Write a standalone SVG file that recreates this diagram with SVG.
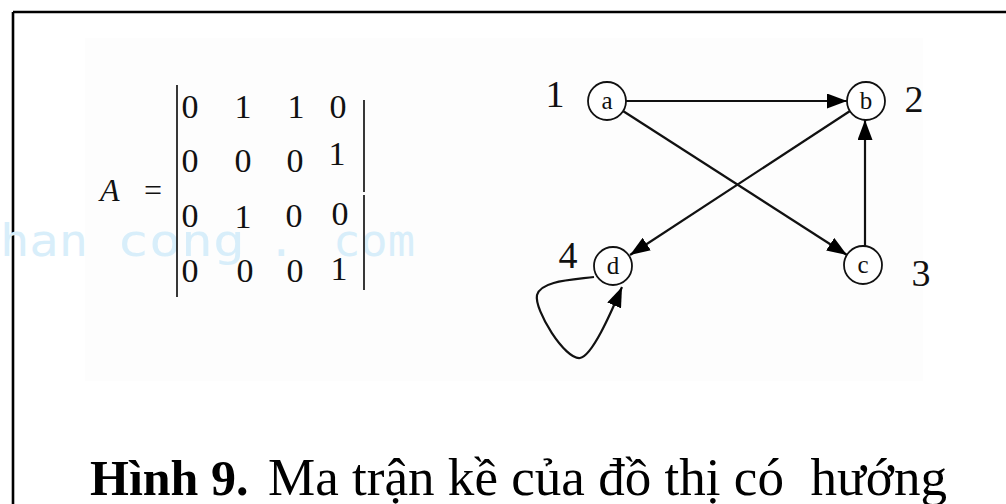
<svg xmlns="http://www.w3.org/2000/svg" width="1006" height="504" viewBox="0 0 1006 504">
  <defs>
    <marker id="arrow" viewBox="0 0 20 15" refX="20" refY="7.5" markerWidth="20" markerHeight="15" markerUnits="userSpaceOnUse" orient="auto">
      <path d="M0,0 L20,7.5 L0,15 z" fill="#000"/>
    </marker>
    <style>
      .frame { stroke: #000; stroke-width: 2.6; fill: none; }
      .bar { stroke: #222; stroke-width: 1.8; fill: none; }
      .num { font-family: "Liberation Serif", "Times New Roman", serif; font-size: 34px; fill: #111; text-anchor: middle; }
      .wm { font-family: "DejaVu Sans Mono", monospace; font-size: 44px; fill: #d8eefa; }
      .node circle { fill: #fff; stroke: #111; stroke-width: 1.8; }
      .node text { font-family: "Liberation Serif", "Times New Roman", serif; font-size: 25px; fill: #111; text-anchor: middle; }
      .lbl { font-family: "Liberation Serif", "Times New Roman", serif; font-size: 38px; fill: #111; text-anchor: middle; }
      .edge { stroke: #111; stroke-width: 2.2; fill: none; }
      .cap { font-family: "Liberation Serif", "Times New Roman", serif; fill: #000; }
    </style>
  </defs>
  <rect width="1006" height="504" fill="#fff"/>
  <rect x="85" y="38" width="838" height="343" fill="#fdfdfd"/>
  <line class="frame" x1="13" y1="12" x2="1006" y2="12"/>
  <line class="frame" x1="13" y1="12" x2="13" y2="504"/>

  <g id="watermark">
    <text class="wm" x="0" y="256" textLength="88" lengthAdjust="spacingAndGlyphs">han</text>
    <text class="wm" x="117" y="256" textLength="128" lengthAdjust="spacingAndGlyphs">cong</text>
    <text class="wm" x="268" y="256">.</text>
    <text class="wm" x="333" y="256" textLength="82" lengthAdjust="spacingAndGlyphs">com</text>
  </g>

  <g id="matrix">
    <text x="100" y="201" font-family="Liberation Serif, Times New Roman, serif" font-style="italic" font-size="32" fill="#111">A</text>
    <text x="144" y="201" font-family="Liberation Serif, Times New Roman, serif" font-size="32" fill="#111">=</text>
    <line class="bar" x1="177" y1="85" x2="177" y2="297"/>
    <line class="bar" x1="364" y1="100" x2="364" y2="192"/>
    <line class="bar" x1="364" y1="195" x2="364" y2="290"/>
    <text class="num" x="190" y="118">0</text>
    <text class="num" x="243" y="118">1</text>
    <text class="num" x="296" y="118">1</text>
    <text class="num" x="338" y="118">0</text>
    <text class="num" x="190" y="172">0</text>
    <text class="num" x="243" y="172">0</text>
    <text class="num" x="295" y="172">0</text>
    <text class="num" x="337" y="165">1</text>
    <text class="num" x="190" y="227">0</text>
    <text class="num" x="243" y="228">1</text>
    <text class="num" x="294" y="227">0</text>
    <text class="num" x="340" y="225">0</text>
    <text class="num" x="190" y="282">0</text>
    <text class="num" x="245" y="282">0</text>
    <text class="num" x="295" y="282">0</text>
    <text class="num" x="339" y="280">1</text>
  </g>

  <g id="connectors">
    <line class="edge" x1="626" y1="101" x2="847" y2="101" marker-end="url(#arrow)"/>
    <line class="edge" x1="623" y1="111" x2="847" y2="255" marker-end="url(#arrow)"/>
    <line class="edge" x1="850" y1="111" x2="630" y2="255" marker-end="url(#arrow)"/>
    <line class="edge" x1="865" y1="246" x2="865" y2="120" marker-end="url(#arrow)"/>
    <path class="edge" d="M 594 277 C 570 280, 541 281, 537 295 C 534 310, 565 360, 580 358 C 592 356, 610 315, 622 287" marker-end="url(#arrow)"/>
  </g>

  <g id="node-a" class="node">
    <circle cx="607" cy="101" r="19"/>
    <text x="607" y="109">a</text>
  </g>
  <g id="node-b" class="node">
    <circle cx="866" cy="101" r="19"/>
    <text x="866" y="109">b</text>
  </g>
  <g id="node-c" class="node">
    <circle cx="863" cy="265" r="19"/>
    <text x="863" y="273">c</text>
  </g>
  <g id="node-d" class="node">
    <circle cx="613" cy="266" r="19"/>
    <text x="613" y="274">d</text>
  </g>

  <g id="labels">
    <text class="lbl" x="555" y="107">1</text>
    <text class="lbl" x="914" y="112">2</text>
    <text class="lbl" x="921" y="286">3</text>
    <text class="lbl" x="568" y="268">4</text>
  </g>

  <g id="caption">
    <text class="cap" x="90" y="495" font-size="50" font-weight="bold">Hình 9.</text>
    <text class="cap" x="268" y="495" font-size="52" textLength="679" lengthAdjust="spacingAndGlyphs" xml:space="preserve">Ma trận kề của đồ thị có  hướng</text>
  </g>
</svg>
